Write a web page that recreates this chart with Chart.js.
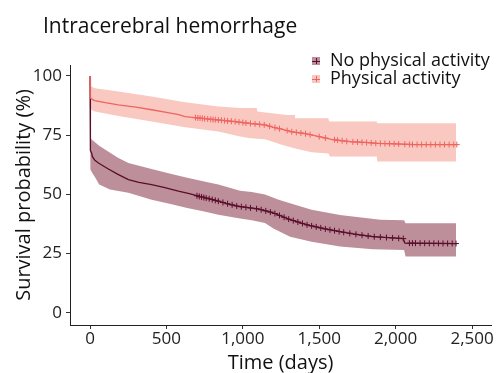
<!DOCTYPE html>
<html><head><meta charset="utf-8">
<script src="https://cdn.jsdelivr.net/npm/chart.js@4/dist/chart.umd.min.js"></script>
<style>html,body{margin:0;padding:0;background:#fff}#wrap{width:498px;height:373px;position:relative}</style>
</head><body><div id="wrap"><canvas id="c" width="498" height="373"></canvas></div>
<script>
const chartTitle = 'Intracerebral hemorrhage';
const seriesNames = ['No physical activity', 'Physical activity'];
const xTitle = 'Time (days)';
const yTitle = 'Survival probability (%)';
const xTicks = [0, 500, 1000, 1500, 2000, 2500];
const yTicks = [0, 25, 50, 75, 100];

// Physical activity: survival estimate and confidence band
const paTime = [0,0.5,3,10,30,100,185,300,403,500,580,622,700,800,949,1050,1145,1200,1260,1320,1400,1470,1530,1580,1640,1700,1800,1880,2000,2120,2408];
const paSurv = [100,92,90.8,90.3,89.6,88.7,87.8,86.8,85.7,84.6,83.6,82.8,82.3,81.6,80.7,79.9,79.3,78.3,77.4,76.4,75.7,74.8,73.9,73.2,72.7,72.2,71.9,71.5,71.3,71.0,71.0];
const paUpperTime = [0,2,8,33,185,403,622,840,982,1091,1095,1287,1342,1346,1560,1565,1876,1880,2395];
const paUpper = [100,97,95.5,94.8,93.4,91.3,88.9,87.1,86.4,86.4,85.0,83.5,83.5,82.1,82.1,80.7,80.7,80.0,80.0];
const paLowerTime = [0,0.5,3,10,33,185,403,622,840,982,1050,1145,1250,1330,1450,1560,1570,1876,1880,2395];
const paLower = [100,90,87,85.6,85,83.1,80.7,78.3,76.5,74.4,73.7,73.2,71,69.5,67.8,67.2,66,66,63.8,63.8];
const paCensor = [690,705,720,735,750,770,790,805,820,840,860,880,900,925,950,975,1000,1020,1050,1080,1110,1140,1175,1210,1240,1290,1320,1350,1380,1410,1440,1500,1540,1600,1620,1650,1680,1720,1750,1780,1810,1840,1870,1900,1930,1960,1990,2020,2060,2090,2110,2140,2170,2200,2230,2260,2290,2320,2350,2380,2400];

// No physical activity: survival estimate and confidence band
const npTime = [0,0.5,2,5,11,15,30,55,120,180,251,320,403,490,578,650,709,780,840,900,971,1100,1198,1300,1420,1530,1636,1750,1852,2050,2060,2400];
const npSurv = [100,75,70,68.5,67.4,66,64.5,63.2,60.7,58.5,56.2,55,54.1,52.8,51.3,50.3,49.2,48.1,47.1,46,44.9,43.8,42.2,39.5,37.1,35.5,34.2,33,32.1,31.3,29.4,29.2];
const npUpperTime = [0,0.5,2,5,11,25,60,98,180,251,403,520,636,740,840,982,1058,1145,1230,1309,1450,1636,1900,2055,2065,2395];
const npUpper = [100,85,77,74,73,72.4,70.5,68.9,65.5,63.2,60.7,58.8,57,55.5,54.1,51.5,51,49.9,47.8,46.2,43.5,41.3,39.2,39,37.8,37.8];
const npLowerTime = [0,0.5,2,5,15,30,60,130,251,403,520,636,740,840,982,1058,1145,1200,1309,1450,1636,1850,2055,2065,2395];
const npLower = [100,68,62,60.5,59,57.5,54.1,52,50.6,47.7,46,44.2,42.8,41.4,39.8,39,37.9,35.5,32.1,30,27.9,26.8,26.5,23.7,23.7];
const npCensor = [700,715,730,745,760,780,800,820,840,870,900,930,960,990,1020,1050,1090,1120,1150,1180,1210,1240,1270,1300,1330,1360,1390,1420,1450,1480,1510,1540,1570,1600,1630,1660,1700,1740,1780,1820,1860,1900,1940,1980,2020,2050,2090,2110,2130,2160,2190,2220,2250,2280,2310,2340,2370,2395];

const colNpLine = '#5a0d2c', colNpFill = '#bd8f9b';
const colPaLine = '#ef6460', colPaFill = '#f9c8c1';

const pts = (t, v) => t.map((x, i) => ({x, y: v[i]}));
const valueAt = (t, v, x) => {
  for (let i = 1; i < t.length; i++) {
    if (x <= t[i]) { const f = (x - t[i-1]) / (t[i] - t[i-1]); return v[i-1] + f * (v[i] - v[i-1]); }
  }
  return v[v.length - 1];
};
const censorPts = (c, t, v) => c.map(x => ({x, y: valueAt(t, v, x)}));

const FONT = '"Open Sans", "Noto Sans", sans-serif';

const legendTitlePlugin = {
  id: 'legendTitle',
  afterDraw(chart) {
    const ctx = chart.ctx;
    ctx.save();
    ctx.fillStyle = '#111';
    ctx.font = '21px ' + FONT;
    ctx.textAlign = 'left';
    ctx.textBaseline = 'middle';
    ctx.fillText(chartTitle, 43, 27);
    const items = [[seriesNames[0], colNpFill, colNpLine, 61], [seriesNames[1], colPaFill, colPaLine, 79]];
    ctx.font = '18px ' + FONT;
    items.forEach(([txt, fill, line, y]) => {
      ctx.fillStyle = fill;
      ctx.fillRect(312, y - 4, 8, 8);
      ctx.strokeStyle = line;
      ctx.lineWidth = 1;
      ctx.beginPath();
      ctx.moveTo(312, y + 0.5); ctx.lineTo(320, y + 0.5);
      ctx.moveTo(316.5, y - 3); ctx.lineTo(316.5, y + 3);
      ctx.stroke();
      ctx.fillStyle = '#111';
      ctx.fillText(txt, 330, y);
    });
    ctx.restore();
  }
};

const lineDs = (label, data, color, order) => ({label, data, borderColor: color, borderWidth: 1.3, pointRadius: 0, tension: 0, fill: false, order});
const bandDs = (data, fillTarget, color, order) => ({data, borderWidth: 0, borderColor: 'rgba(0,0,0,0)', pointRadius: 0, tension: 0, fill: fillTarget, backgroundColor: color, order});
const censorDs = (data, color, order) => ({data, showLine: false, pointStyle: 'cross', pointRadius: 3, pointBorderWidth: 1, borderColor: color, backgroundColor: color, pointBorderColor: color, order});

new Chart(document.getElementById('c'), {
  type: 'line',
  data: {
    datasets: [
      bandDs(pts(npUpperTime, npUpper), false, colNpFill, 10),
      bandDs(pts(npLowerTime, npLower), 0, colNpFill, 9),
      bandDs(pts(paUpperTime, paUpper), false, colPaFill, 10),
      bandDs(pts(paLowerTime, paLower), 2, colPaFill, 9),
      lineDs(seriesNames[0], pts(npTime, npSurv), colNpLine, 2),
      lineDs(seriesNames[1], pts(paTime, paSurv), colPaLine, 1),
      censorDs(censorPts(npCensor, npTime, npSurv), colNpLine, 2),
      censorDs(censorPts(paCensor, paTime, paSurv), colPaLine, 1)
    ]
  },
  options: {
    responsive: false,
    animation: false,
    layout: {padding: {top: 65, right: 7, left: 0, bottom: 0}},
    plugins: {legend: {display: false}, tooltip: {enabled: false}, title: {display: false}},
    scales: {
      x: {
        type: 'linear', min: -131, max: 2624,
        afterBuildTicks: s => { s.ticks = xTicks.map(v => ({value: v})); },
        afterFit: s => { s.height = 48; },
        ticks: {color: '#222', font: {family: FONT, size: 17}, padding: 0, maxRotation: 0,
                callback: v => v.toLocaleString('en-US')},
        grid: {drawOnChartArea: false, drawTicks: true, tickLength: 4, tickColor: '#333'},
        border: {display: true, color: '#222', width: 1},
        title: {display: true, text: xTitle, color: '#111', font: {family: FONT, size: 20, lineHeight: 1}, padding: {top: 0, bottom: 0}}
      },
      y: {
        type: 'linear', min: -5.2, max: 104.6,
        afterBuildTicks: s => { s.ticks = yTicks.map(v => ({value: v})); },
        afterFit: s => { s.width = 70; },
        ticks: {color: '#222', font: {family: FONT, size: 17}, padding: 4},
        grid: {drawOnChartArea: false, drawTicks: true, tickLength: 4, tickColor: '#333'},
        border: {display: true, color: '#222', width: 1},
        title: {display: true, text: yTitle, color: '#111', font: {family: FONT, size: 20, lineHeight: 1}, padding: {top: 14, bottom: 0}}
      }
    }
  },
  plugins: [legendTitlePlugin]
});
</script></body></html>
